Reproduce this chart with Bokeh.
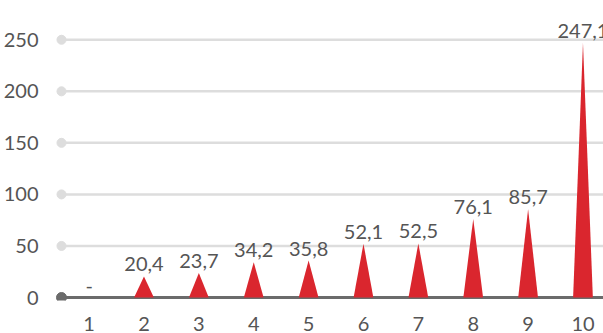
from bokeh.plotting import figure
from bokeh.models import Range1d, FixedTicker, ColumnDataSource
from bokeh.embed import file_html
from bokeh.resources import INLINE
from bokeh.core.properties import value

# Data
categories = [1, 2, 3, 4, 5, 6, 7, 8, 9, 10]
values = [None, 20.4, 23.7, 34.2, 35.8, 52.1, 52.5, 76.1, 85.7, 247.1]
value_labels = ["-", "20,4", "23,7", "34,2", "35,8", "52,1", "52,5", "76,1", "85,7", "247,1"]
y_ticks = [0, 50, 100, 150, 200, 250]

FONT = "Lato"
TEXT_COLOR = "#555555"
RED = "#da262e"
GRID = "#dddddd"
BASE = "#6b6b6b"

p = figure(
    width=603, height=333,
    x_range=Range1d(0.333, 10.374),
    y_range=Range1d(-2.91, 288.1),
    output_backend="svg", toolbar_location=None,
    min_border_left=52, min_border_right=0, min_border_top=0, min_border_bottom=33,
)
p.outline_line_color = None
p.xgrid.visible = False
p.ygrid.visible = False
p.background_fill_color = "white"
p.border_fill_color = "white"

for ax in (p.xaxis, p.yaxis):
    ax.axis_line_color = None
    ax.major_tick_line_color = None
    ax.minor_tick_line_color = None
    ax.major_label_text_font = FONT
    ax.major_label_text_font_size = "20px"
    ax.major_label_text_color = TEXT_COLOR

p.xaxis.ticker = FixedTicker(ticks=categories)
p.xaxis.major_label_standoff = 10
p.yaxis.ticker = FixedTicker(ticks=y_ticks)
p.yaxis.major_label_standoff = 8

# Gridlines with a round dot at their left end
x_start = 0.497
grid_vals = [t for t in y_ticks if t > 0]
p.segment(x0=[x_start] * len(grid_vals), y0=grid_vals, x1=[11] * len(grid_vals), y1=grid_vals,
          line_color=GRID, line_width=2.5)
p.scatter(x=[x_start] * len(grid_vals), y=grid_vals, size=9, color=GRID)

# Baseline
p.segment(x0=[x_start], y0=[0], x1=[11], y1=[0], line_color=BASE, line_width=3)
p.scatter(x=[x_start], y=[0], size=10, color=BASE)

# Spike (triangle) bars
half_w = 0.18
xs, ys = [], []
for c, v in zip(categories, values):
    if v is None:
        continue
    xs.append([c - half_w, c, c + half_w])
    ys.append([0, v, 0])
p.patches(xs=xs, ys=ys, fill_color=RED, line_color=None)

# Value labels
label_src = ColumnDataSource(dict(
    x=categories,
    y=[v if v is not None else 0 for v in values],
    text=value_labels,
))
p.text(x="x", y="y", text="text", source=label_src,
       text_align="center", text_baseline="alphabetic", y_offset=-12,
       text_font=value(FONT), text_font_size="20px", text_color=TEXT_COLOR)

open("out.html", "w").write(file_html(p, INLINE))
